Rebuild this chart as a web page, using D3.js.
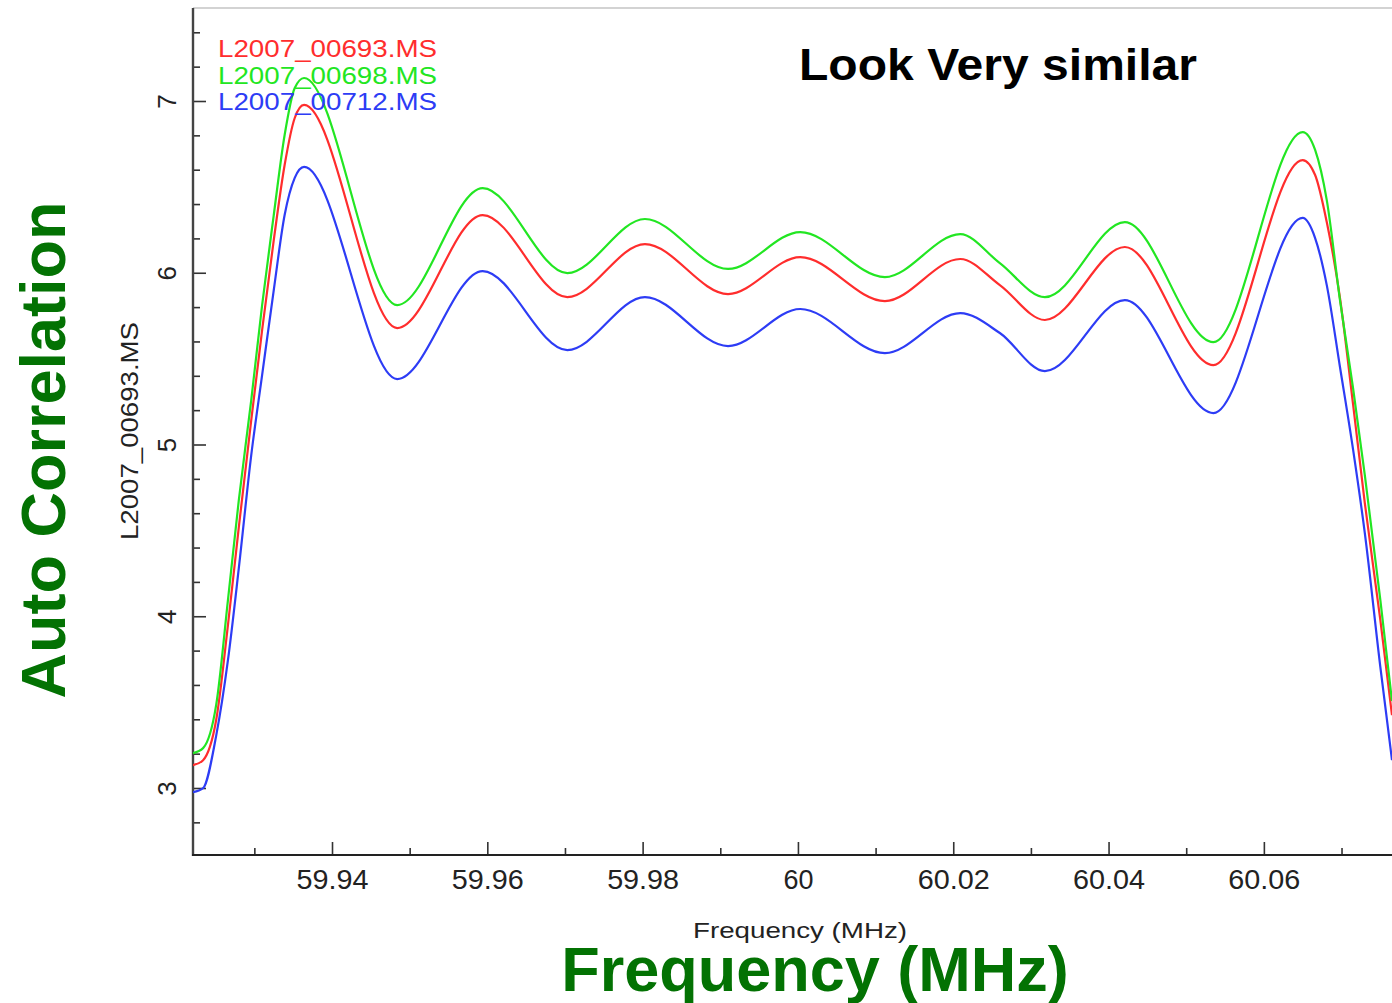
<!DOCTYPE html>
<html>
<head>
<meta charset="utf-8">
<script src="https://cdn.jsdelivr.net/npm/d3@7"></script>
<style>
  html, body { margin: 0; padding: 0; background: #fff; }
  svg { display: block; }
</style>
</head>
<body>
<svg id="chart" width="1392" height="1003"></svg>
<script>
// Frequency samples (MHz) along the band
const freqs = [
  59.9221, 59.9234, 59.9251, 59.9266, 59.9280, 59.9296, 59.9310, 59.9325,
  59.9339, 59.9352, 59.9364, 59.9484, 59.9594, 59.9703, 59.9803, 59.9910,
  60.0003, 60.0112, 60.0209, 60.0260, 60.0318, 60.0421, 60.0535, 60.0650,
  60.0666, 60.0681, 60.0698, 60.0715, 60.0730, 60.0750, 60.0765
];

// Auto-correlation amplitude per measurement set
const ms00693 = [
  3.133, 3.162, 3.400, 3.948, 4.519, 5.142, 5.666, 6.190,
  6.627, 6.901, 6.977, 5.678, 6.336, 5.858, 6.167, 5.876,
  6.091, 5.835, 6.080, 5.928, 5.725, 6.150, 5.462, 6.656,
  6.569, 6.295, 5.853, 5.229, 4.659, 3.977, 3.424
];
const ms00698 = [
  3.203, 3.232, 3.488, 4.094, 4.676, 5.259, 5.812, 6.336,
  6.802, 7.076, 7.134, 5.812, 6.493, 5.998, 6.313, 6.022,
  6.237, 5.975, 6.225, 6.056, 5.858, 6.295, 5.596, 6.819,
  6.715, 6.423, 5.841, 5.323, 4.822, 4.094, 3.506
];
const ms00712 = [
  2.976, 2.999, 3.308, 3.744, 4.280, 4.938, 5.404, 5.899,
  6.336, 6.552, 6.616, 5.381, 6.010, 5.550, 5.858, 5.573,
  5.789, 5.532, 5.765, 5.649, 5.427, 5.841, 5.183, 6.319,
  6.202, 5.928, 5.451, 4.967, 4.484, 3.704, 3.162
];

const seriesNames = ["L2007_00693.MS", "L2007_00698.MS", "L2007_00712.MS"];
const seriesColors = ["#ff2d2d", "#22e622", "#2d3cf5"];
const seriesValues = [ms00693, ms00698, ms00712];

const xMajorTicks = [59.94, 59.96, 59.98, 60.00, 60.02, 60.04, 60.06];
const xMinorTicks = [59.93, 59.95, 59.97, 59.99, 60.01, 60.03, 60.05, 60.07];
const yMajorTicks = [3, 4, 5, 6, 7];
const yMinorTicks = [2.8, 3.2, 3.4, 3.6, 3.8, 4.2, 4.4, 4.6, 4.8, 5.2, 5.4, 5.6, 5.8,
                     6.2, 6.4, 6.6, 6.8, 7.2, 7.4];

const plot = { left: 193, right: 1392, top: 8, bottom: 855 };

const svg = d3.select("#chart");
const font = "'Liberation Sans', Arial, Helvetica, sans-serif";

const x = d3.scaleLinear().domain([59.9221, 60.0765]).range([plot.left, plot.right]);
const y = d3.scaleLinear().domain([3, 7]).range([788, 101]);

// clip the traces to the plotting box
svg.append("defs").append("clipPath").attr("id", "plotClip")
  .append("rect")
  .attr("x", plot.left).attr("y", plot.top)
  .attr("width", plot.right - plot.left).attr("height", plot.bottom - plot.top);

// frame: light top rule, heavy left and bottom axes
svg.append("line")
  .attr("x1", plot.left).attr("x2", plot.right)
  .attr("y1", plot.top).attr("y2", plot.top)
  .attr("stroke", "#c4c4c4").attr("stroke-width", 1.5);

// x axis ticks (pointing up into the plot)
const xMajor = svg.append("g")
  .attr("transform", `translate(0,${plot.bottom})`)
  .call(d3.axisBottom(x).tickValues(xMajorTicks).tickSizeInner(-13).tickSizeOuter(0)
        .tickFormat(d => String(+d.toFixed(2))));
const xMinor = svg.append("g")
  .attr("transform", `translate(0,${plot.bottom})`)
  .call(d3.axisBottom(x).tickValues(xMinorTicks).tickSizeInner(-7).tickSizeOuter(0)
        .tickFormat(""));

// y axis ticks (pointing right into the plot)
const yMajor = svg.append("g")
  .attr("transform", `translate(${plot.left},0)`)
  .call(d3.axisLeft(y).tickValues(yMajorTicks).tickSizeInner(-13).tickSizeOuter(0)
        .tickFormat(d => String(d)));
const yMinor = svg.append("g")
  .attr("transform", `translate(${plot.left},0)`)
  .call(d3.axisLeft(y).tickValues(yMinorTicks).tickSizeInner(-7).tickSizeOuter(0)
        .tickFormat(""));

[xMajor, xMinor, yMajor, yMinor].forEach(g => {
  g.select(".domain").remove();
  g.selectAll(".tick line").attr("stroke", "#333").attr("stroke-width", 1.6);
});

xMajor.selectAll(".tick text")
  .attr("y", 34).attr("dy", 0)
  .attr("fill", "#222")
  .style("font-family", font).style("font-size", "27px")
  .attr("textLength", d => (d === 60 ? 30 : 72)).attr("lengthAdjust", "spacingAndGlyphs");

yMajor.selectAll(".tick text")
  .attr("transform", "rotate(-90)")
  .attr("x", 0).attr("y", -17).attr("dy", 0)
  .attr("fill", "#222")
  .style("text-anchor", "middle")
  .style("font-family", font).style("font-size", "26px");

// axis lines
svg.append("line")
  .attr("x1", plot.left).attr("x2", plot.left)
  .attr("y1", plot.top).attr("y2", plot.bottom + 1)
  .attr("stroke", "#444").attr("stroke-width", 2.4);
svg.append("line")
  .attr("x1", plot.left - 1).attr("x2", plot.right)
  .attr("y1", plot.bottom).attr("y2", plot.bottom)
  .attr("stroke", "#222").attr("stroke-width", 2);

// traces
const line = d3.line()
  .x((d, i) => x(freqs[i]))
  .y(d => y(d))
  .curve(d3.curveMonotoneX);

svg.append("g").attr("clip-path", "url(#plotClip)")
  .selectAll("path")
  .data(seriesValues)
  .join("path")
  .attr("d", d => line(d))
  .attr("fill", "none")
  .attr("stroke", (d, i) => seriesColors[i])
  .attr("stroke-width", 2.2)
  .attr("stroke-linejoin", "round");

// legend
svg.append("g")
  .selectAll("text")
  .data(seriesNames)
  .join("text")
  .attr("x", 218)
  .attr("y", (d, i) => 57 + i * 26.5)
  .attr("fill", (d, i) => seriesColors[i])
  .attr("textLength", 219).attr("lengthAdjust", "spacingAndGlyphs")
  .style("font-family", font).style("font-size", "24px")
  .text(d => d);

// axis titles
svg.append("text")
  .attr("transform", "translate(138,431) rotate(-90)")
  .attr("text-anchor", "middle")
  .attr("fill", "#222")
  .attr("textLength", 218).attr("lengthAdjust", "spacingAndGlyphs")
  .style("font-family", font).style("font-size", "24px")
  .text(seriesNames[0]);

svg.append("text")
  .attr("x", 800).attr("y", 938)
  .attr("text-anchor", "middle")
  .attr("fill", "#222")
  .attr("textLength", 214).attr("lengthAdjust", "spacingAndGlyphs")
  .style("font-family", font).style("font-size", "22px")
  .text("Frequency  (MHz)");

// annotations
svg.append("text")
  .attr("x", 799).attr("y", 80)
  .attr("fill", "#000")
  .attr("textLength", 398).attr("lengthAdjust", "spacingAndGlyphs")
  .style("font-family", font).style("font-size", "44px").style("font-weight", "bold")
  .text("Look Very similar");

svg.append("text")
  .attr("transform", "translate(65,450) rotate(-90)")
  .attr("text-anchor", "middle")
  .attr("fill", "#037203")
  .style("font-family", font).style("font-size", "63px").style("font-weight", "bold")
  .text("Auto Correlation");

svg.append("text")
  .attr("x", 815).attr("y", 991)
  .attr("text-anchor", "middle")
  .attr("fill", "#037203")
  .style("font-family", font).style("font-size", "63px").style("font-weight", "bold")
  .text("Frequency (MHz)");
</script>
</body>
</html>
